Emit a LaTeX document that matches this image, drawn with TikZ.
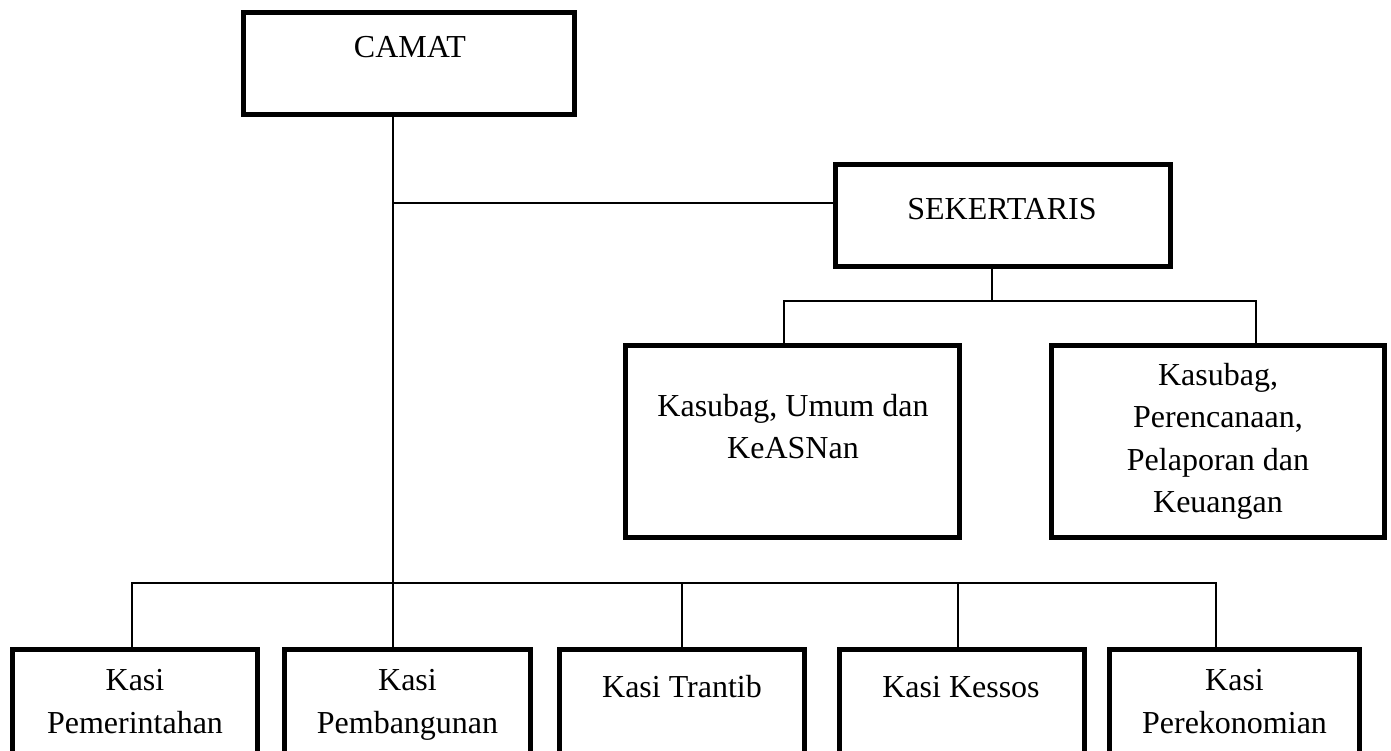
\documentclass[tikz,border=0pt]{standalone}
\usepackage{fontspec}
\setmainfont{Liberation Serif}
\begin{document}
\begin{tikzpicture}[x=1pt,y=-1pt,
  orgbox/.style={draw=black,line width=5pt,rectangle,inner sep=0pt,outer sep=0pt,fill=none},
  lbl/.style={font=\fontsize{32}{42.5}\selectfont,align=center,anchor=base,inner sep=0pt},
  link/.style={draw=black,line width=2pt}]
\useasboundingbox (0,0) rectangle (1391,751);
\fill[white] (0,0) rectangle (1391,751);
\begin{scope}
\clip (0,0) rectangle (1391,751);
% boxes
\node[orgbox,minimum width=331pt,minimum height=102pt] (camat) at (409,63.5) {};
\node[orgbox,minimum width=335pt,minimum height=102pt] (sek) at (1003,215.5) {};
\node[orgbox,minimum width=334pt,minimum height=192pt] (kum) at (792.5,441.5) {};
\node[orgbox,minimum width=333pt,minimum height=192pt] (kper) at (1218,441.5) {};
\node[orgbox,minimum width=245pt,minimum height=130pt] (b1) at (135,714.5) {};
\node[orgbox,minimum width=246pt,minimum height=130pt] (b2) at (407.5,714.5) {};
\node[orgbox,minimum width=245pt,minimum height=130pt] (b3) at (682,714.5) {};
\node[orgbox,minimum width=245pt,minimum height=130pt] (b4) at (962,714.5) {};
\node[orgbox,minimum width=250pt,minimum height=130pt] (b5) at (1234.5,714.5) {};
% texts
\node[lbl] (tcamat) at (410,58) {CAMAT};
\node[lbl] (tsek) at (1002,220) {SEKERTARIS};
\node[lbl] (tkum1) at (793,416) {Kasubag, Umum dan};
\node[lbl] (tkum2) at (793,458.5) {KeASNan};
\node[lbl] (tkper1) at (1218,385) {Kasubag,};
\node[lbl] (tkper2) at (1218,427.5) {Perencanaan,};
\node[lbl] (tkper3) at (1218,470) {Pelaporan dan};
\node[lbl] (tkper4) at (1218,512.5) {Keuangan};
\node[lbl] (tb1a) at (135,690.5) {Kasi};
\node[lbl] (tb1b) at (135,733) {Pemerintahan};
\node[lbl] (tb2a) at (407.5,690.5) {Kasi};
\node[lbl] (tb2b) at (407.5,733) {Pembangunan};
\node[lbl] (tb3) at (682,697) {Kasi Trantib};
\node[lbl] (tb4) at (961,697) {Kasi Kessos};
\node[lbl] (tb5a) at (1234.5,690.5) {Kasi};
\node[lbl] (tb5b) at (1234.5,733) {Perekonomian};
\end{scope}
% connectors
\coordinate (jsek) at (393,203);
\coordinate (bus) at (393,583);
\coordinate (sbus) at (992,301);
\draw[link] (camat.south -| bus) -- (b2.north -| bus);
\draw[link] (jsek) -- (sek.west |- jsek);
\draw[link] (b1.north -| 132,0) |- (bus) -| (b5.north -| 1216,0);
\draw[link] (bus -| 682,0) -- (b3.north);
\draw[link] (bus -| 958,0) -- (b4.north -| 958,0);
\draw[link] (sek.south -| sbus) -- (sbus);
\draw[link] (kum.north -| 784,0) |- (sbus) -| (kper.north -| 1256,0);
\end{tikzpicture}
\end{document}
